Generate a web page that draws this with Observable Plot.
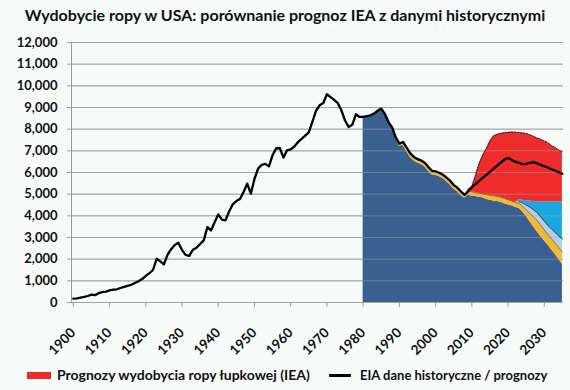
<!DOCTYPE html>
<html>
<head>
<meta charset="utf-8">
<script src="https://cdn.jsdelivr.net/npm/d3@7"></script>
<script src="https://cdn.jsdelivr.net/npm/@observablehq/plot@0.6"></script>
<style>
  html, body { margin: 0; padding: 0; background: #f6faf8; }
  #wrap { width: 570px; height: 390px; font-family: Lato, "DejaVu Sans", sans-serif; font-weight: 700; color: #111; }
  #title { height: 30px; line-height: 30px; text-align: center; font-size: 16px; white-space: nowrap; }
  #chart svg { display: block; }
  #legend { position: relative; height: 30px; }
  .sw { position: absolute; }
  .lt { position: absolute; top: 6px; line-height: 18px; white-space: nowrap; }
</style>
</head>
<body>
<div id="wrap">
  <div id="title">Wydobycie ropy w USA: porównanie prognoz IEA z danymi historycznymi</div>
  <div id="chart"></div>
  <div id="legend"></div>
</div>
<script>
// ---- data (thousand barrels per day) ----
const firstYear = 1900;
const lastYear = 2035;
// EIA historical data / forecast (black line), 1900..2035
const eiaLine = [
  180, 195, 230, 260, 300, 360, 340, 430, 480, 500,
  560, 590, 610, 670, 720, 770, 820, 900, 980, 1080,
  1230, 1350, 1500, 2019, 1900, 1756, 2200, 2460, 2650, 2757,
  2420, 2200, 2150, 2435, 2527, 2700, 2865, 3480, 3327, 3700,
  4066, 3821, 3789, 4200, 4529, 4680, 4780, 5097, 5485, 5023,
  5700, 6180, 6350, 6400, 6285, 6800, 7120, 7130, 6687, 7024,
  7070, 7200, 7400, 7550, 7700, 7850, 8350, 8850, 9104, 9210,
  9612, 9480, 9350, 9200, 8872, 8400, 8101, 8200, 8688, 8563,
  8564, 8600, 8640, 8720, 8850, 8950, 8700, 8330, 8080, 7620,
  7334, 7410, 7150, 6880, 6720, 6620, 6560, 6450, 6250, 6080,
  6050, 5990, 5900, 5760, 5620, 5420, 5300, 5120, 4970, 5130,
  5320, 5460, 5610, 5750, 5890, 6030, 6180, 6320, 6460, 6600,
  6670, 6580, 6500, 6440, 6390, 6400, 6440, 6480, 6420, 6350,
  6280, 6230, 6150, 6080, 6010, 5940
];
// IEA stacked layers
const blueStart = 1980;
const blueBase = [
  8564, 8600, 8640, 8720, 8850, 8950, 8700, 8330, 8080, 7580,
  7214, 7260, 6970, 6700, 6540, 6440, 6380, 6270, 6070, 5900,
  5870, 5810, 5720, 5580, 5440, 5240, 5120, 4940, 4820, 4950,
  4910, 4890, 4860, 4830, 4770, 4715, 4690, 4660, 4630, 4560,
  4510, 4460, 4400, 4350, 4200, 3980, 3740, 3500, 3280, 3060,
  2850, 2650, 2440, 2230, 2000, 1760
];
const orangeStart = 1989;
const orangeBand = [
  40, 120, 150, 180, 180, 180, 180, 180, 180, 180,
  180, 180, 180, 180, 180, 180, 180, 180, 180, 150,
  230, 200, 185, 180, 180, 210, 230, 230, 230, 230,
  240, 235, 220, 220, 230, 250, 300, 380, 450, 510,
  510, 500, 480, 500, 510, 530, 560
];
const paleStart = 2023;
const paleBand = [80, 150, 220, 280, 330, 360, 380, 400, 420, 450, 490, 540, 600];
const cyanStart = 2023;
const cyanBand = [80, 115, 200, 280, 380, 495, 685, 885, 1085, 1245, 1410, 1570, 1720];
const shaleStart = 2009;
const shaleBand = [
  50, 240, 775, 1360, 1790, 2120, 2505, 2760, 2870, 2940,
  3030, 3105, 3185, 3240, 3100, 3105, 3100, 3060, 3010, 2945,
  2905, 2815, 2735, 2615, 2510, 2400, 2300
];
const layerNames = ["blue", "orange", "pale", "cyan", "shale"];
const layerColors = ["#3a5f91", "#f6b92e", "#b8cce6", "#19a8e2", "#ee2c2c"];
const yTicks = d3.range(0, 12001, 1000);
const xTicks = d3.range(1900, 2031, 10);
const legendLabels = ["Prognozy wydobycia ropy łupkowej (IEA)", "EIA dane historyczne / prognozy"];

// ---- build tables ----
const years = d3.range(firstYear, lastYear + 1);
const lineData = years.map((y, i) => ({year: y, value: eiaLine[i]}));
const layers = [
  {name: "blue", start: blueStart, vals: blueBase},
  {name: "orange", start: orangeStart, vals: orangeBand},
  {name: "pale", start: paleStart, vals: paleBand},
  {name: "cyan", start: cyanStart, vals: cyanBand},
  {name: "shale", start: shaleStart, vals: shaleBand}
];
const get = (L, y) => { const v = L.vals[y - L.start]; return v === undefined ? 0 : v; };
const stackYears = d3.range(blueStart, lastYear + 1);
const areaData = [];
for (const L of layers) for (const y of stackYears) areaData.push({year: y, layer: L.name, value: get(L, y)});
const cum = (y, n) => d3.sum(layers.slice(0, n), L => get(L, y));
const orangeTop = stackYears.filter(y => y >= 2009).map(y => ({year: y, value: cum(y, 2)}));
const paleTop = stackYears.filter(y => y >= paleStart).map(y => ({year: y, value: cum(y, 3)}));
const shaleTop = stackYears.filter(y => y >= shaleStart).map(y => ({year: y, value: cum(y, 5)}));

const chart = Plot.plot({
  width: 570,
  height: 330,
  marginLeft: 71,
  marginRight: 7,
  marginTop: 12,
  marginBottom: 58,
  style: {background: "#f6faf8", fontFamily: "Lato, 'DejaVu Sans', sans-serif", fontWeight: 700, fontSize: "13px", color: "#111"},
  x: {domain: [1899.5, 2035.3]},
  y: {domain: [0, 12000]},
  color: {domain: layerNames, range: layerColors},
  marks: [
    Plot.gridY(yTicks, {stroke: "#9a9a9a", strokeOpacity: 1, strokeWidth: 1}),
    Plot.areaY(areaData, {x: "year", y: "value", z: "layer", fill: "layer", order: layerNames, curve: "linear"}),
    Plot.gridY(yTicks, {stroke: "#b0b0b0", strokeOpacity: 0.45, strokeWidth: 1}),
    Plot.lineY(orangeTop, {x: "year", y: "value", stroke: "#3a3a3a", strokeWidth: 0.6}),
    Plot.lineY(paleTop, {x: "year", y: "value", stroke: "#222", strokeWidth: 0.8}),
    Plot.lineY(shaleTop, {x: "year", y: "value", stroke: "#222", strokeWidth: 1, strokeDasharray: "1.5,1.5"}),
    Plot.frame({anchor: "left", stroke: "#9a9a9a"}),
    Plot.axisY({ticks: yTicks, tickFormat: d3.format(","), tickSize: 4, tickPadding: 10, stroke: "#9a9a9a", fill: "#111", fontSize: 13, label: null}),
    Plot.axisX({ticks: xTicks, tickFormat: d3.format("d"), tickSize: 5, tickPadding: 23, tickRotate: -45, stroke: "#9a9a9a", fill: "#111", fontSize: 13.5, label: null}),
    Plot.lineY(lineData, {x: "year", y: "value", stroke: "#000", strokeWidth: 2.3, strokeLinejoin: "round"})
  ]
});
document.getElementById("chart").appendChild(chart);

// ---- legend ----
const leg = document.getElementById("legend");
leg.innerHTML =
  `<div class="sw" style="left:27px;top:12px;width:24px;height:7px;background:${layerColors[4]}"></div>` +
  `<div class="lt" style="left:57px;font-size:14px">${legendLabels[0]}</div>` +
  `<div class="sw" style="left:329px;top:14px;width:22px;height:3px;background:#000"></div>` +
  `<div class="lt" style="left:360px;font-size:13px">${legendLabels[1]}</div>`;
</script>
</body>
</html>
